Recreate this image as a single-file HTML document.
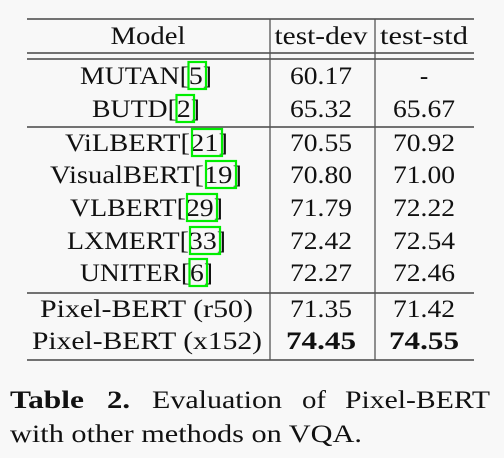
<!DOCTYPE html>
<html><head><meta charset="utf-8"><style>
html,body{margin:0;padding:0;background:#f8f8f8;}
svg{display:block;}
svg text{font-family:"Liberation Serif","DejaVu Serif",serif;}
</style></head><body>
<svg width="504" height="458" viewBox="0 0 504 458" font-family="Liberation Serif, serif">
<rect width="504" height="458" fill="#f8f8f8"/>
<g stroke="#222" stroke-width="1.3">
<line x1="27" y1="19" x2="474" y2="19"/>
<line x1="27" y1="53" x2="474" y2="53"/>
<line x1="27" y1="59" x2="474" y2="59"/>
<line x1="27" y1="127" x2="474" y2="127"/>
<line x1="27" y1="293" x2="474" y2="293"/>
<line x1="27" y1="360" x2="474" y2="360"/>
<line x1="270" y1="19" x2="270" y2="360" stroke="#555"/>
<line x1="375" y1="19" x2="375" y2="360" stroke="#555"/>
</g>
<g font-size="25" fill="#111" text-anchor="middle">
<text x="148" y="44" textLength="75" lengthAdjust="spacingAndGlyphs">Model</text>
<text x="321" y="44" textLength="93" lengthAdjust="spacingAndGlyphs">test-dev</text>
<text x="424" y="44" textLength="88" lengthAdjust="spacingAndGlyphs">test-std</text>
</g>
<g id="rows" font-size="25" fill="#111"></g>
<g font-size="25" fill="#111">
<text x="10" y="408" textLength="74" lengthAdjust="spacingAndGlyphs" font-weight="bold">Table</text>
<text x="107" y="408" textLength="23" lengthAdjust="spacingAndGlyphs" font-weight="bold">2.</text>
<text x="152" y="408" textLength="130" lengthAdjust="spacingAndGlyphs">Evaluation</text>
<text x="302" y="408" textLength="24" lengthAdjust="spacingAndGlyphs">of</text>
<text x="345" y="408" textLength="145" lengthAdjust="spacingAndGlyphs">Pixel-BERT</text>
<text x="10" y="442" textLength="352" lengthAdjust="spacingAndGlyphs">with other methods on VQA.</text>
</g>
</svg>
<script>
const models=["MUTAN","BUTD","ViLBERT","VisualBERT","VLBERT","LXMERT","UNITER","Pixel-BERT (r50)","Pixel-BERT (x152)"];
const cites=["5","2","21","19","29","33","6","",""];
const testDev=["60.17","65.32","70.55","70.80","71.79","72.42","72.27","71.35","74.45"];
const testStd=["-","65.67","70.92","71.00","72.22","72.54","72.46","71.42","74.55"];
const boldRow=[false,false,false,false,false,false,false,false,true];
const rowY=[75,108,142,174,207,240,272,308,340];
const spans=[[80,212],[92,200],[65,228],[50,242],[70,223],[67,226],[80,213],[40,253],[32,262]];
const NS="http://www.w3.org/2000/svg";
const g=document.getElementById('rows');
function txt(x,y,s,anchor,len,bold){const t=document.createElementNS(NS,'text');t.setAttribute('x',x);t.setAttribute('y',y);t.setAttribute('text-anchor',anchor);t.setAttribute('font-family','Liberation Serif, serif');if(len){t.setAttribute('textLength',len);t.setAttribute('lengthAdjust','spacingAndGlyphs');}if(bold)t.setAttribute('font-weight','bold');t.textContent=s;g.appendChild(t);return t;}
models.forEach((m,i)=>{
 const y=rowY[i]+9;const [a,b]=spans[i];
 const label=cites[i]?m+"["+cites[i]+"]":m;
 const t=txt(a,y,label,'start',b-a,false);
 
 
 if(cites[i]){
  const w=cites[i].length*12.5+5;
  const r=document.createElementNS(NS,'rect');
  r.setAttribute('x',b-6-w);r.setAttribute('y',rowY[i]-13);r.setAttribute('width',w);r.setAttribute('height',27);
  r.setAttribute('fill','none');r.setAttribute('stroke','#00ee00');r.setAttribute('stroke-width','2.2');
  
  
  g.appendChild(r);
 }
 const d=txt(321,y,testDev[i],'middle',boldRow[i]?70:62,boldRow[i]);
 
 
 const s=txt(424,y,testStd[i],'middle',testStd[i]==='-'?0:(boldRow[i]?70:62),boldRow[i]);
 
 
});
</script>
</body></html>
